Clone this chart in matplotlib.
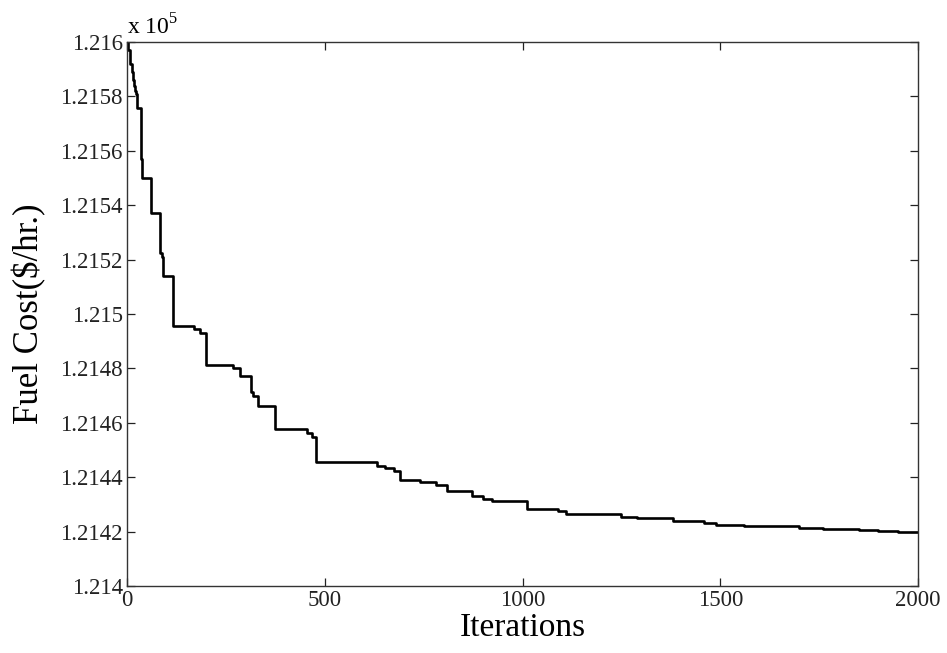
import matplotlib
matplotlib.use("Agg")
import matplotlib.pyplot as plt

plt.rcParams['font.family'] = ['Liberation Serif', 'DejaVu Serif']
plt.rcParams['mathtext.fontset'] = 'custom'
plt.rcParams['mathtext.rm'] = 'Liberation Serif'

# Best fuel cost so far (x 10^5 $/hr) vs iteration (step curve)
iterations = [0, 3, 8, 12, 14, 18, 20, 23, 26, 35, 37, 39, 60, 83, 88, 92, 117,
              170, 185, 201, 267, 286, 313, 319, 330, 374, 454, 467, 477, 633,
              652, 675, 690, 741, 781, 808, 872, 901, 922, 1011, 1090, 1110,
              1250, 1290, 1380, 1460, 1490, 1560, 1700, 1760, 1850, 1900, 1950,
              2000]
cost_e5 = [1.21600, 1.21597, 1.21592, 1.21589, 1.21586, 1.21584, 1.21582,
           1.21581, 1.215758, 1.21557, 1.21553, 1.215499, 1.21537, 1.215225,
           1.21521, 1.21514, 1.214956, 1.214944, 1.214929, 1.214813, 1.214800,
           1.214772, 1.214714, 1.214700, 1.214663, 1.214576, 1.214564,
           1.214547, 1.214457, 1.214440, 1.214433, 1.214424, 1.214390,
           1.214383, 1.214371, 1.214350, 1.214331, 1.214320, 1.214313,
           1.214284, 1.214275, 1.214265, 1.214255, 1.214250, 1.214240,
           1.214230, 1.214225, 1.214220, 1.214215, 1.214210, 1.214207,
           1.214203, 1.214200, 1.214200]

y_ticks = [1.214, 1.2142, 1.2144, 1.2146, 1.2148, 1.215, 1.2152, 1.2154,
           1.2156, 1.2158, 1.216]
y_tick_labels = ["1.214", "1.2142", "1.2144", "1.2146", "1.2148", "1.215",
                 "1.2152", "1.2154", "1.2156", "1.2158", "1.216"]
x_ticks = [0, 500, 1000, 1500, 2000]
x_tick_labels = ["0", "500", "1000", "1500", "2000"]

fig = plt.figure(figsize=(9.47, 6.53), dpi=100)
ax = fig.add_axes([127/947, 1 - 586/653, (918 - 127)/947, (586 - 42)/653])

ax.step(iterations, cost_e5, where='post', color='black', lw=1.9)

ax.set_xlim(0, 2000)
ax.set_ylim(1.214, 1.216)
ax.set_xticks(x_ticks)
ax.set_xticklabels(x_tick_labels)
ax.set_yticks(y_ticks)
ax.set_yticklabels(y_tick_labels)
ax.tick_params(direction='in', length=6, width=0.9, top=True, right=True,
               labelsize=16.5, colors='#222222', pad=3)
ax.tick_params(axis='x', pad=3)
for s in ax.spines.values():
    s.set_color('#333333')
    s.set_linewidth(1.0)

ax.set_xlabel("Iterations", fontsize=24, labelpad=1)
ax.set_ylabel("Fuel Cost($/hr.)", fontsize=25, labelpad=10)
ax.text(0.0, 1.004, "x 10$^{5}$", transform=ax.transAxes, fontsize=17,
        ha='left', va='bottom')

fig.savefig("out.png", dpi=100, facecolor='white')
